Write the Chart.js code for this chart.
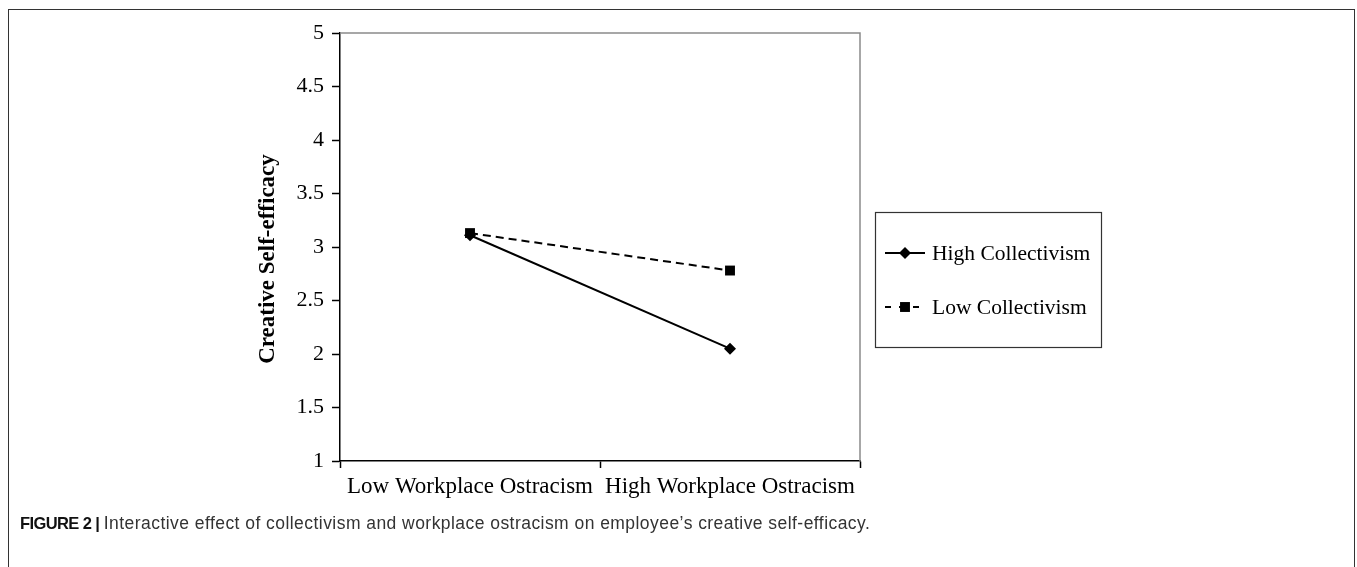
<!DOCTYPE html>
<html>
<head>
<meta charset="utf-8">
<script src="https://cdn.jsdelivr.net/npm/chart.js@4.4.1/dist/chart.umd.min.js"></script>
<style>
  html, body { margin: 0; padding: 0; background: #fff; }
  #frame {
    position: absolute; left: 8px; top: 9px; width: 1347px; height: 600px;
    border: 1.5px solid #333; box-sizing: border-box;
  }
  #wrap { position: absolute; left: 0; top: 0; width: 1357px; height: 567px; }
  #caption {
    position: absolute; left: 20px; top: 513px; white-space: nowrap;
    font-family: "Liberation Sans", Arial, sans-serif; color: #333;
  }
  #caption b { font-weight: bold; color: #111; font-size: 16.5px; letter-spacing: -0.6px; }
  #caption span { font-size: 17.5px; letter-spacing: 0.45px; }
</style>
</head>
<body>
<div id="frame"></div>
<div id="wrap"><canvas id="chart" width="1357" height="567"></canvas></div>
<div id="caption"><b>FIGURE 2 |</b> <span>Interactive effect of collectivism and workplace ostracism on employee’s creative self-efficacy.</span></div>
<script>
const categories = ["Low Workplace Ostracism", "High Workplace Ostracism"];
const highCollectivism = [3.11, 2.05];
const lowCollectivism = [3.13, 2.78];
const seriesNames = ["High Collectivism", "Low Collectivism"];
const yTicks = [1, 1.5, 2, 2.5, 3, 3.5, 4, 4.5, 5];
const yTitle = "Creative Self-efficacy";

const serif = "'Liberation Serif', 'Times New Roman', serif";

// draws the y title, the plot box (top/right) and the boxed legend
const extras = {
  id: "extras",
  afterDraw(chart) {
    const c = chart.ctx;
    const a = chart.chartArea;
    c.save();
    // grey top and right border of the plot
    c.strokeStyle = "#8a8a8a";
    c.lineWidth = 1.5;
    c.beginPath();
    c.moveTo(a.left, a.top);
    c.lineTo(a.right, a.top);
    c.lineTo(a.right, a.bottom);
    c.stroke();

    // y title
    c.fillStyle = "#000";
    c.font = "bold 23px " + serif;
    c.textAlign = "center";
    c.textBaseline = "middle";
    c.translate(268, 259);
    c.rotate(-Math.PI / 2);
    c.fillText(yTitle, 0, 0);
    c.restore();

    // legend box
    c.save();
    c.strokeStyle = "#333";
    c.lineWidth = 1.2;
    c.strokeRect(875.5, 212.5, 226, 135);
    const rows = [253, 307];
    chart.data.datasets.forEach((ds, i) => {
      const y = rows[i];
      c.strokeStyle = "#000";
      c.lineWidth = 2;
      c.setLineDash(i === 1 ? [6, 8] : []);
      c.beginPath();
      c.moveTo(885, y);
      c.lineTo(925, y);
      c.stroke();
      c.setLineDash([]);
      c.fillStyle = "#000";
      const r = ds.pointRadius;
      if (ds.pointStyle === "rectRot") {
        c.beginPath();
        c.moveTo(905, y - r);
        c.lineTo(905 + r, y);
        c.lineTo(905, y + r);
        c.lineTo(905 - r, y);
        c.closePath();
        c.fill();
      } else {
        const s = r * Math.SQRT2;
        c.fillRect(905 - s / 2, y - s / 2, s, s);
      }
      c.font = "21.5px " + serif;
      c.textAlign = "left";
      c.textBaseline = "middle";
      c.fillText(ds.label, 932, y + 1);
    });
    c.restore();
  }
};

new Chart(document.getElementById("chart"), {
  type: "line",
  data: {
    labels: categories,
    datasets: [
      {
        label: seriesNames[0],
        data: highCollectivism,
        borderColor: "#000",
        backgroundColor: "#000",
        borderWidth: 2,
        pointStyle: "rectRot",
        pointRadius: 6,
        pointBorderWidth: 0,
        fill: false,
        tension: 0
      },
      {
        label: seriesNames[1],
        data: lowCollectivism,
        borderColor: "#000",
        backgroundColor: "#000",
        borderWidth: 2,
        borderDash: [8, 5],
        pointStyle: "rect",
        pointRadius: 7,
        pointBorderWidth: 0,
        fill: false,
        tension: 0
      }
    ]
  },
  options: {
    responsive: false,
    animation: false,
    events: [],
    layout: { padding: { left: 252, top: 33, right: 497, bottom: 66 } },
    plugins: { legend: { display: false }, tooltip: { enabled: false } },
    scales: {
      x: {
        type: "category",
        offset: true,
        grid: { offset: true, drawOnChartArea: false, tickLength: 7, color: "#000", tickWidth: 1.5 },
        border: { color: "#000", width: 1.5 },
        ticks: { color: "#000", font: { family: serif, size: 23 }, padding: 5, maxRotation: 0, autoSkip: false },
        afterFit(scale) { scale.height = 40; }
      },
      y: {
        min: 1,
        max: 5,
        afterBuildTicks(scale) { scale.ticks = yTicks.map(v => ({ value: v })); },
        grid: { drawOnChartArea: false, tickLength: 8, color: "#000", tickWidth: 1.5 },
        border: { color: "#000", width: 1.5 },
        ticks: { color: "#000", font: { family: serif, size: 22 }, padding: 8, callback: v => String(v) },
        afterFit(scale) { scale.width = 88; }
      }
    }
  },
  plugins: [extras]
});
</script>
</body>
</html>
